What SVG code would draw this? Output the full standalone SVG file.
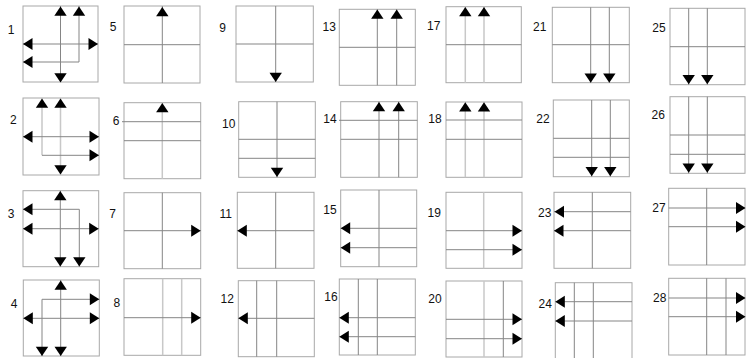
<svg xmlns="http://www.w3.org/2000/svg" xmlns:xlink="http://www.w3.org/1999/xlink" width="746" height="358" viewBox="0 0 746 358">
<style>
.f{fill:#fff;stroke:#a8a8a8;stroke-width:1}
.l{stroke:#858585;stroke-width:1;fill:none}
.g{stroke:#c8c8c8;stroke-width:1.5;fill:none}
.t{font-family:"Liberation Sans",Arial,sans-serif;font-size:12px;fill:#111;text-anchor:middle}
</style>
<defs>
<path id="au" d="M0,0 L6.2,9.2 L-6.2,9.2 Z" fill="#000"/>
<path id="ad" d="M0,0 L6.2,-9.2 L-6.2,-9.2 Z" fill="#000"/>
<path id="al" d="M0,0 L9.5,-6 L9.5,6 Z" fill="#000"/>
<path id="ar" d="M0,0 L-9.5,-6 L-9.5,6 Z" fill="#000"/>
</defs>
<rect width="746" height="358" fill="#fff"/>

<g id="p1">
<rect class="f" x="23" y="6" width="75" height="76"/>
<text class="t" x="11" y="34.3">1</text>
<path class="l" d="M60.5,6V82M79,6V62M23,44H98M23,62H79"/>
<use xlink:href="#au" x="60.5" y="6.5"/><use xlink:href="#au" x="79" y="6.5"/>
<use xlink:href="#al" x="23" y="44"/><use xlink:href="#ar" x="98" y="44"/>
<use xlink:href="#al" x="23" y="62"/><use xlink:href="#ad" x="60.5" y="82.5"/>
</g>
<g id="p2">
<rect class="f" x="23" y="98" width="76" height="77"/>
<text class="t" x="13.3" y="123.6">2</text>
<path class="g" d="M42,98V155.3M60.5,98V175"/>
<path class="l" d="M23,136.7H99M42,155.3H99"/>
<use xlink:href="#au" x="42" y="98.5"/><use xlink:href="#au" x="60.5" y="98.5"/>
<use xlink:href="#al" x="23" y="136.7"/><use xlink:href="#ar" x="99" y="136.7"/>
<use xlink:href="#ar" x="99" y="155.3"/><use xlink:href="#ad" x="60.5" y="174.5"/>
</g>
<g id="p3">
<rect class="f" x="23" y="190.7" width="75.7" height="76"/>
<text class="t" x="11.2" y="217.6">3</text>
<path class="l" d="M60.3,190.7V266.7M79.3,209.3V266.7M23,209.3H79.3M23,228.7H98.7"/>
<use xlink:href="#au" x="60.3" y="191"/>
<use xlink:href="#al" x="23" y="209.3"/><use xlink:href="#al" x="23" y="228.7"/>
<use xlink:href="#ar" x="98.7" y="228.7"/>
<use xlink:href="#ad" x="60.3" y="266.5"/><use xlink:href="#ad" x="79.3" y="266.5"/>
</g>
<g id="p4">
<rect class="f" x="23.3" y="280" width="76" height="76"/>
<text class="t" x="14" y="307.6">4</text>
<path class="l" d="M60.7,280V356M42,299.3V356M42,299.3H99.3M23.3,318.3H99.3"/>
<use xlink:href="#au" x="60.7" y="280.5"/>
<use xlink:href="#ar" x="99.3" y="299.3"/>
<use xlink:href="#al" x="23.3" y="318.3"/><use xlink:href="#ar" x="99.3" y="318.3"/>
<use xlink:href="#ad" x="42" y="356"/><use xlink:href="#ad" x="60.7" y="356"/>
</g>

<g id="p5">
<rect class="f" x="124" y="6" width="76" height="77"/>
<text class="t" x="113" y="30.6">5</text>
<path class="l" d="M162.3,6V83M124,44.7H200"/>
<use xlink:href="#au" x="162.3" y="7"/>
</g>
<g id="p6">
<rect class="f" x="124" y="102.7" width="76.7" height="76"/>
<text class="t" x="116" y="125">6</text>
<path class="g" d="M162.3,102.7V178.7"/>
<path class="l" d="M122,121.7H200.7M124,140.7H200.7"/>
<use xlink:href="#au" x="162.3" y="103"/>
</g>
<g id="p7">
<rect class="f" x="124" y="192.7" width="76.7" height="76"/>
<text class="t" x="112.5" y="217.6">7</text>
<path class="l" d="M162.3,192.7V268.7M124,230.7H200.7"/>
<use xlink:href="#ar" x="200.7" y="230.7"/>
</g>
<g id="p8">
<rect class="f" x="124" y="278.7" width="76.7" height="76.6"/>
<text class="t" x="116.8" y="307.3">8</text>
<path class="g" d="M162.7,278.7V355.3M181.7,278.7V355.3"/>
<path class="l" d="M124,317.7H200.7"/>
<use xlink:href="#ar" x="200.7" y="317.7"/>
</g>

<g id="p9">
<rect class="f" x="236" y="6" width="77.3" height="76"/>
<text class="t" x="222.5" y="32">9</text>
<path class="l" d="M275.7,6V82M236,44H313.3"/>
<use xlink:href="#ad" x="275.7" y="82"/>
</g>
<g id="p10">
<rect class="f" x="238.7" y="101.7" width="76.6" height="75.6"/>
<text class="t" x="228.7" y="128">10</text>
<path class="l" d="M277,101.7V177.3M238.7,139.3H315.3M238.7,158.3H315.3"/>
<use xlink:href="#ad" x="277" y="177"/>
</g>
<g id="p11">
<rect class="f" x="237.3" y="192.3" width="76.7" height="76"/>
<text class="t" x="225.7" y="218">11</text>
<path class="l" d="M275.7,192.3V268.3M237.3,230.7H314"/>
<use xlink:href="#al" x="237.3" y="230.7"/>
</g>
<g id="p12">
<rect class="f" x="238.3" y="280.7" width="76" height="76"/>
<text class="t" x="227.3" y="303.3">12</text>
<path class="l" d="M256.7,280.7V356.7M276.7,280.7V356.7M238.3,318.3H314.3"/>
<use xlink:href="#al" x="238.3" y="318.3"/>
</g>

<g id="p13">
<rect class="f" x="339.3" y="9.3" width="76" height="76"/>
<text class="t" x="329.3" y="31">13</text>
<path class="l" d="M377.3,9.3V85.3M396.7,9.3V85.3M339.3,47.3H415.3"/>
<use xlink:href="#au" x="377.3" y="9.5"/><use xlink:href="#au" x="396.7" y="9.5"/>
</g>
<g id="p14">
<rect class="f" x="340.7" y="101.7" width="76.6" height="75.6"/>
<text class="t" x="330" y="123.3">14</text>
<path class="l" d="M379,101.7V177.3M398.7,101.7V177.3M339,120.3H417.3M340.7,139.3H417.3"/>
<use xlink:href="#au" x="379" y="102"/><use xlink:href="#au" x="398.7" y="102"/>
</g>
<g id="p15">
<rect class="f" x="340.7" y="190" width="76" height="76.7"/>
<text class="t" x="330" y="213.6">15</text>
<path class="l" d="M379,190V266.7M340.7,228.3H416.7M340.7,247.7H416.7"/>
<use xlink:href="#al" x="340.7" y="228.3"/><use xlink:href="#al" x="340.7" y="247.7"/>
</g>
<g id="p16">
<rect class="f" x="339.3" y="279" width="76" height="76"/>
<text class="t" x="331" y="301">16</text>
<path class="l" d="M358.3,279V355M377.3,279V355M339.3,317.7H415.3M339.3,336.7H415.3"/>
<use xlink:href="#al" x="339.3" y="317.7"/><use xlink:href="#al" x="339.3" y="336.7"/>
</g>

<g id="p17">
<rect class="f" x="446" y="6.7" width="75.3" height="76"/>
<text class="t" x="433.7" y="29.6">17</text>
<path class="g" d="M465.3,6.7V82.7M484,6.7V82.7"/>
<path class="l" d="M446,44.7H521.3"/>
<use xlink:href="#au" x="465.3" y="7"/><use xlink:href="#au" x="484" y="7"/>
</g>
<g id="p18">
<rect class="f" x="446" y="102" width="76" height="75.3"/>
<text class="t" x="435" y="123.3">18</text>
<path class="g" d="M465.3,102V177.3M484,102V177.3"/>
<path class="l" d="M446,120H522M446,139.3H522"/>
<use xlink:href="#au" x="465.3" y="102.3"/><use xlink:href="#au" x="484" y="102.3"/>
</g>
<g id="p19">
<rect class="f" x="446" y="192.3" width="76" height="76"/>
<text class="t" x="434.3" y="217.3">19</text>
<path class="g" d="M483.7,192.3V268.3"/>
<path class="l" d="M446,230.7H522M446,249.7H522"/>
<use xlink:href="#ar" x="522" y="230.7"/><use xlink:href="#ar" x="522" y="249.7"/>
</g>
<g id="p20">
<rect class="f" x="446" y="281" width="76" height="76"/>
<text class="t" x="435" y="303.3">20</text>
<path class="g" d="M484,281V357"/>
<path class="l" d="M503.3,281V357M446,319.3H522M446,338.7H522"/>
<use xlink:href="#ar" x="522" y="319.3"/><use xlink:href="#ar" x="522" y="338.7"/>
</g>

<g id="p21">
<rect class="f" x="552.3" y="7.3" width="77" height="75.4"/>
<text class="t" x="539.7" y="31.3">21</text>
<path class="l" d="M590.7,7.3V82.7M609.3,7.3V82.7M552.3,44.7H629.3"/>
<use xlink:href="#ad" x="590.7" y="82.7"/><use xlink:href="#ad" x="609.3" y="82.7"/>
</g>
<g id="p22">
<rect class="f" x="553.3" y="100" width="76" height="76.7"/>
<text class="t" x="543" y="123">22</text>
<path class="l" d="M591.7,100V176.7M610.3,100V176.7M553.3,138.3H629.3M553.3,157.3H629.3"/>
<use xlink:href="#ad" x="591.7" y="176.3"/><use xlink:href="#ad" x="610.3" y="176.3"/>
</g>
<g id="p23">
<rect class="f" x="554" y="192.3" width="76.7" height="76"/>
<text class="t" x="544.7" y="216.6">23</text>
<path class="l" d="M592.3,192.3V268.3M554,211.7H630.7M554,230.7H630.7"/>
<use xlink:href="#al" x="554.5" y="211.7"/><use xlink:href="#al" x="554" y="230.7"/>
</g>
<g id="p24">
<rect class="f" x="555.3" y="282.7" width="76.7" height="80"/>
<text class="t" x="545.3" y="308.3">24</text>
<path class="l" d="M574.3,282.7V358M593.3,282.7V358M555.3,301.7H632M555.3,321H632"/>
<use xlink:href="#al" x="555.3" y="301.7"/><use xlink:href="#al" x="555.3" y="321"/>
</g>

<g id="p25">
<rect class="f" x="670" y="8.3" width="75" height="76.4"/>
<text class="t" x="659" y="31.6">25</text>
<path class="l" d="M688.7,8.3V84.7M707.3,8.3V84.7M670,46.7H745"/>
<use xlink:href="#ad" x="688.7" y="84.2"/><use xlink:href="#ad" x="707.3" y="84.2"/>
</g>
<g id="p26">
<rect class="f" x="670" y="96.7" width="75" height="76.6"/>
<text class="t" x="658.3" y="119.3">26</text>
<path class="l" d="M688.7,96.7V173.3M707.3,96.7V173.3M670,135H745M670,154.3H745"/>
<use xlink:href="#ad" x="688.7" y="172.7"/><use xlink:href="#ad" x="707.3" y="172.7"/>
</g>
<g id="p27">
<rect class="f" x="668.7" y="188.3" width="76.3" height="76.7"/>
<text class="t" x="659" y="211.6">27</text>
<path class="l" d="M706.7,188.3V265M668.7,208H745M668.7,226.7H745"/>
<use xlink:href="#ar" x="745.5" y="208"/><use xlink:href="#ar" x="745.5" y="226.7"/>
</g>
<g id="p28">
<rect class="f" x="668.7" y="278.3" width="76.3" height="76.7"/>
<text class="t" x="659.7" y="301.6">28</text>
<path class="l" d="M706.7,278.3V355M726,278.3V355M668.7,298H745M668.7,316.7H745"/>
<use xlink:href="#ar" x="745.5" y="298"/><use xlink:href="#ar" x="745.5" y="316.7"/>
</g>
</svg>
